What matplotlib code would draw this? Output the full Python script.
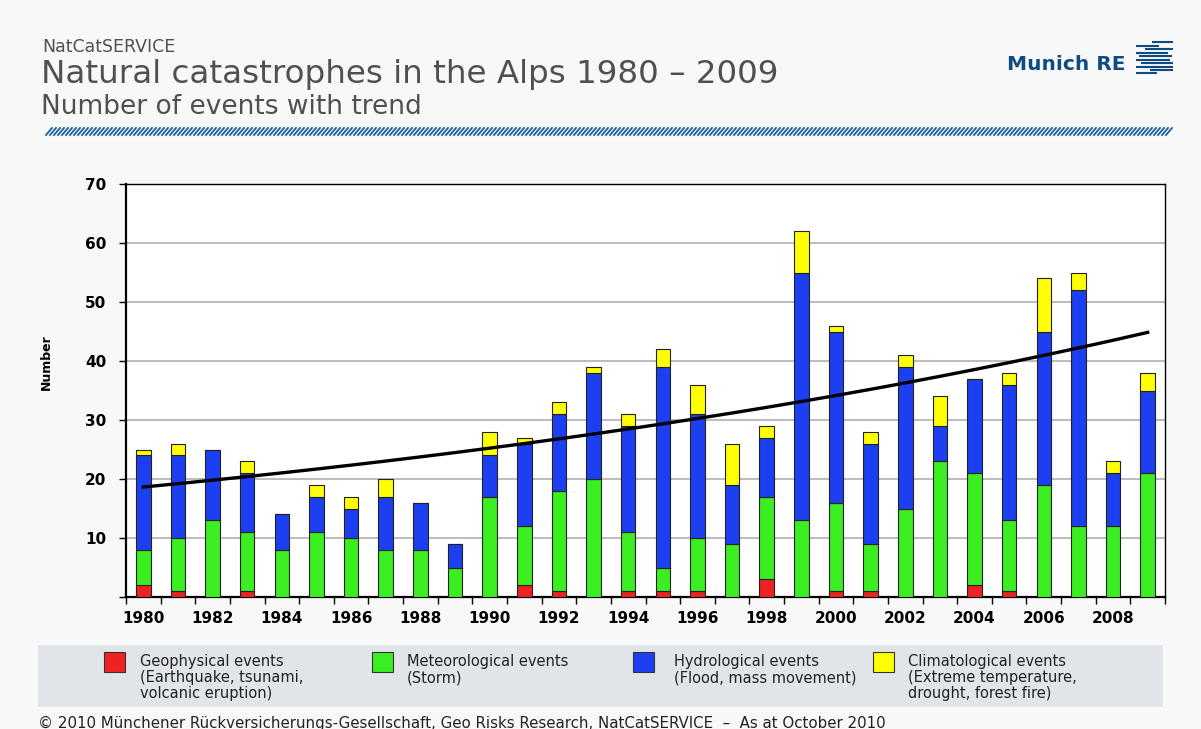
import numpy as np
import matplotlib.pyplot as plt
from matplotlib.patches import Rectangle
from matplotlib.lines import Line2D

plt.rcParams['font.family'] = ['DejaVu Sans']

# numero di eventi per anno, per tipo
years = list(range(1980, 2010))
geophysical = [2, 1, 0, 1, 0, 0, 0, 0, 0, 0, 0, 2, 1, 0, 1, 1, 1, 0, 3, 0,
               1, 1, 0, 0, 2, 1, 0, 0, 0, 0]
meteorological = [6, 9, 13, 10, 8, 11, 10, 8, 8, 5, 17, 10, 17, 20, 10, 4, 9, 9, 14, 13,
                  15, 8, 15, 23, 19, 12, 19, 12, 12, 21]
hydrological = [16, 14, 12, 10, 6, 6, 5, 9, 8, 4, 7, 14, 13, 18, 18, 34, 21, 10, 10, 42,
                29, 17, 24, 6, 16, 23, 26, 40, 9, 14]
climatological = [1, 2, 0, 2, 0, 2, 2, 3, 0, 0, 4, 1, 2, 1, 2, 3, 5, 7, 2, 7,
                  1, 2, 2, 5, 0, 2, 9, 3, 2, 3]

series_names = ['Geophysical events\n(Earthquake, tsunami,\nvolcanic eruption)',
                'Meteorological events\n(Storm)',
                'Hydrological events\n(Flood, mass movement)',
                'Climatological events\n(Extreme temperature,\ndrought, forest fire)']
series_colors = ['#ee2222', '#3aee22', '#1d3ff2', '#ffff00']

title_top = 'NatCatSERVICE'
title = 'Natural catastrophes in the Alps 1980 \u2013 2009'
subtitle = 'Number of events with trend'
footer = ('\u00a9 2010 M\u00fcnchener R\u00fcckversicherungs-Gesellschaft, Geo Risks Research, '
          'NatCatSERVICE  \u2013  As at October 2010')

grey_txt = '#505050'
mr_blue = '#0d4b82'

fig = plt.figure(figsize=(12.01, 7.29), dpi=100)
fig.patch.set_facecolor('#f8f8f8')

# intestazione
fig.text(42 / 1201, 1 - 47 / 729, title_top, fontsize=12.5, color=grey_txt, va='center')
fig.text(41 / 1201, 1 - 75 / 729, title, fontsize=23.4, color=grey_txt, va='center')
fig.text(41 / 1201, 1 - 107 / 729, subtitle, fontsize=19, color=grey_txt, va='center')

# linea tratteggiata sotto il titolo
for x0 in np.arange(46, 1168, 4.0):
    fig.add_artist(Line2D([x0 / 1201, (x0 + 6) / 1201], [1 - 135 / 729, 1 - 128 / 729],
                          color='#1a5f9e', lw=1.3, transform=fig.transFigure))

# logo Munich RE
fig.text(1007 / 1201, 1 - 65 / 729, 'Munich RE', fontsize=14.5, fontweight='bold',
         color=mr_blue, va='center')
logo_rows = [(42, 1152, 1173), (45.7, 1136, 1159), (49, 1145, 1173), (52.5, 1136, 1168),
             (56, 1139, 1172), (59.5, 1136, 1170), (63, 1141, 1173), (66.5, 1136, 1160),
             (66.5, 1150, 1173), (70, 1150, 1173), (73, 1136, 1157)]
for yy, xa, xb in logo_rows:
    fig.add_artist(Line2D([xa / 1201, xb / 1201], [1 - yy / 729, 1 - yy / 729],
                          color=mr_blue, lw=1.5, solid_capstyle='butt',
                          transform=fig.transFigure))

# grafico a barre impilate
ax = fig.add_axes([126 / 1201, 1 - 597 / 729, (1165 - 126) / 1201, (597 - 184) / 729])
ax.set_facecolor('white')
x = np.arange(len(years))
stack = [geophysical, meteorological, hydrological, climatological]
bottom = np.zeros(len(years))
for vals, col in zip(stack, series_colors):
    ax.bar(x, vals, width=0.42, bottom=bottom, color=col, edgecolor='#222222',
           linewidth=0.8, zorder=3)
    bottom += np.array(vals)

# trend esponenziale sul totale
totals = bottom
coef = np.polyfit(x, np.log(totals), 1)
trend = np.exp(np.polyval(coef, x))
ax.plot(x, trend, color='black', lw=2.4, zorder=4)

ax.set_xlim(-0.5, len(years) - 0.5)
ax.set_ylim(0, 70)
ax.set_yticks(range(0, 71, 10))
ax.set_yticklabels([''] + [str(v) for v in range(10, 71, 10)])
ax.yaxis.grid(True, color='#b0b0b0', lw=1.2, zorder=0)
ax.set_xticks(x[::2])
ax.set_xticklabels([str(y) for y in years[::2]])
ax.set_xticks(np.arange(-0.5, len(years), 1), minor=True)
ax.tick_params(axis='x', which='major', length=0, pad=10)
ax.tick_params(axis='x', which='minor', length=5, width=1, direction='out')
ax.tick_params(axis='y', length=5, width=1, direction='out', pad=9)
for lab in ax.get_xticklabels() + ax.get_yticklabels():
    lab.set_fontweight('bold')
    lab.set_fontsize(11)
for s in ax.spines.values():
    s.set_linewidth(1.0)
ax.spines['left'].set_linewidth(1.6)
ax.spines['bottom'].set_linewidth(1.6)

fig.text(46 / 1201, 1 - 362 / 729, 'Number', rotation=90, fontsize=9, fontweight='bold',
         ha='center', va='center')

# legenda su fondo grigio
fig.add_artist(Rectangle((38 / 1201, 1 - 707 / 729), (1163 - 38) / 1201, 62 / 729,
                         facecolor='#e1e5ea', edgecolor='none', transform=fig.transFigure))
leg_sq = [104, 372, 633, 873]
leg_tx = [140, 407, 674, 908]
for sx, tx, col, name in zip(leg_sq, leg_tx, series_colors, series_names):
    fig.add_artist(Rectangle((sx / 1201, 1 - 672 / 729), 21 / 1201, 20 / 729,
                             facecolor=col, edgecolor='#333333', lw=0.8,
                             transform=fig.transFigure))
    fig.text(tx / 1201, 1 - 654 / 729, name, fontsize=10.5, color='#222222',
             va='top', linespacing=1.1)

fig.text(38 / 1201, 1 - 723 / 729, footer, fontsize=10.8, color='#222222', va='center')

fig.savefig('out.png', dpi=100, facecolor=fig.get_facecolor())
